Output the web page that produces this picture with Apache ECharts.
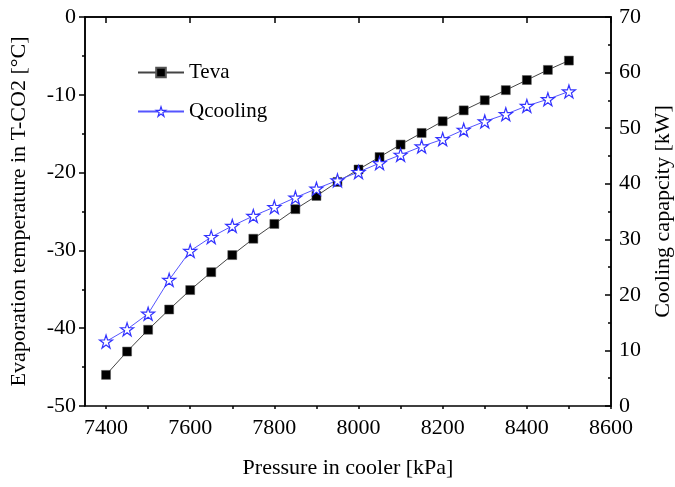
<!DOCTYPE html>
<html>
<head>
<meta charset="utf-8">
<script src="https://cdn.jsdelivr.net/npm/echarts@6/dist/echarts.min.js"></script>
<style>
  html, body { margin: 0; padding: 0; background: #fff; }
  #chart { width: 675px; height: 487px; }
</style>
</head>
<body>
<div id="chart"></div>
<script>
// data
var pressure = [7400, 7450, 7500, 7550, 7600, 7650, 7700, 7750, 7800, 7850, 7900, 7950,
                8000, 8050, 8100, 8150, 8200, 8250, 8300, 8350, 8400, 8450, 8500];
var teva = [-46.0, -43.0, -40.2, -37.6, -35.1, -32.8, -30.6, -28.5, -26.6, -24.7, -23.0, -21.2,
            -19.6, -18.0, -16.4, -14.9, -13.4, -12.0, -10.7, -9.4, -8.1, -6.8, -5.6];
var qcooling = [11.6, 13.8, 16.6, 22.7, 27.9, 30.4, 32.4, 34.2, 35.8, 37.5, 39.1, 40.6,
                42.1, 43.7, 45.2, 46.7, 48.0, 49.7, 51.2, 52.5, 54.0, 55.2, 56.6];
var xLabels = [7400, 7600, 7800, 8000, 8200, 8400, 8600];
var xMinorTicks = [7400, 7500, 7600, 7700, 7800, 7900, 8000, 8100, 8200, 8300, 8400, 8500, 8600];

var font = 'Liberation Serif';
var star = 'path://M50 0 L61.2 34.5 L97.6 34.5 L68.2 55.9 L79.4 90.5 L50 69.1 L20.6 90.5 L31.8 55.9 L2.4 34.5 L38.8 34.5 Z';

function pairs(ys) {
  return pressure.map(function (p, i) { return [p, ys[i]]; });
}
function plain(v) { return String(v); }

var chart = echarts.init(document.getElementById('chart'));
chart.setOption({
  backgroundColor: '#fff',
  animation: false,
  textStyle: { fontFamily: font },
  grid: {
    left: 85, right: 64, top: 17, bottom: 81,
    containLabel: false, outerBoundsMode: 'none',
    show: true, borderColor: '#000', borderWidth: 1.5
  },
  legend: {
    orient: 'vertical',
    left: 132, top: 57,
    itemWidth: 46, itemHeight: 12, itemGap: 18,
    textStyle: { fontFamily: font, fontSize: 21, color: '#000' },
    data: [
      { name: 'Teva' },
      { name: 'Qcooling', itemStyle: { color: '#fff', borderColor: '#3333ff', borderWidth: 1.2 } }
    ]
  },
  xAxis: [{
    type: 'value', min: 7350, max: 8600,
    name: 'Pressure in cooler [kPa]', nameLocation: 'middle', nameGap: 51,
    nameTextStyle: { fontFamily: font, fontSize: 22, color: '#000' },
    axisLine: { lineStyle: { color: '#000', width: 1.5 } },
    axisTick: { customValues: xLabels, length: 6, lineStyle: { color: '#000', width: 1.5 } },
    axisLabel: { customValues: xLabels, formatter: plain, margin: 11, fontFamily: font, fontSize: 22, color: '#000' },
    splitLine: { show: false }
  }, {
    type: 'value', min: 7350, max: 8600, position: 'bottom',
    axisLine: { show: false },
    axisTick: { customValues: xMinorTicks, length: 3, lineStyle: { color: '#000', width: 1.5 } },
    axisLabel: { show: false },
    splitLine: { show: false }
  }],
  yAxis: [{
    type: 'value', min: -50, max: 0, interval: 10, position: 'left',
    name: 'Evaporation temperature in T-CO2 [°C]', nameLocation: 'middle', nameGap: 55,
    nameTextStyle: { fontFamily: font, fontSize: 22, color: '#000' },
    axisLine: { show: true, lineStyle: { color: '#000', width: 1.5 } },
    axisTick: { length: 6, lineStyle: { color: '#000', width: 1.5 } },
    minorTick: { show: true, splitNumber: 2, length: 3, lineStyle: { color: '#000', width: 1.5 } },
    axisLabel: { margin: 9, formatter: plain, fontFamily: font, fontSize: 22, color: '#000' },
    splitLine: { show: false }
  }, {
    type: 'value', min: 0, max: 70, interval: 10, position: 'right',
    name: 'Cooling capapcity [kW]', nameLocation: 'middle', nameGap: 41,
    nameTextStyle: { fontFamily: font, fontSize: 22, color: '#000' },
    axisLine: { show: true, lineStyle: { color: '#000', width: 1.5 } },
    axisTick: { inside: true, length: 6, lineStyle: { color: '#000', width: 1.5 } },
    minorTick: { show: true, splitNumber: 2, length: 3, lineStyle: { color: '#000', width: 1.5 } },
    axisLabel: { margin: 8, formatter: plain, fontFamily: font, fontSize: 22, color: '#000' },
    splitLine: { show: false }
  }],
  series: [{
    name: 'Teva', type: 'line', yAxisIndex: 0,
    data: pairs(teva),
    symbol: 'rect', symbolSize: 9,
    lineStyle: { color: '#444', width: 1 },
    itemStyle: { color: '#000', borderColor: '#555', borderWidth: 0.5 }
  }, {
    name: 'Qcooling', type: 'line', yAxisIndex: 1,
    data: pairs(qcooling),
    symbol: star, symbolSize: 13,
    lineStyle: { color: '#5555ff', width: 1 },
    itemStyle: { color: '#fff', borderColor: '#3333ff', borderWidth: 1.2 }
  }]
});
</script>
</body>
</html>
